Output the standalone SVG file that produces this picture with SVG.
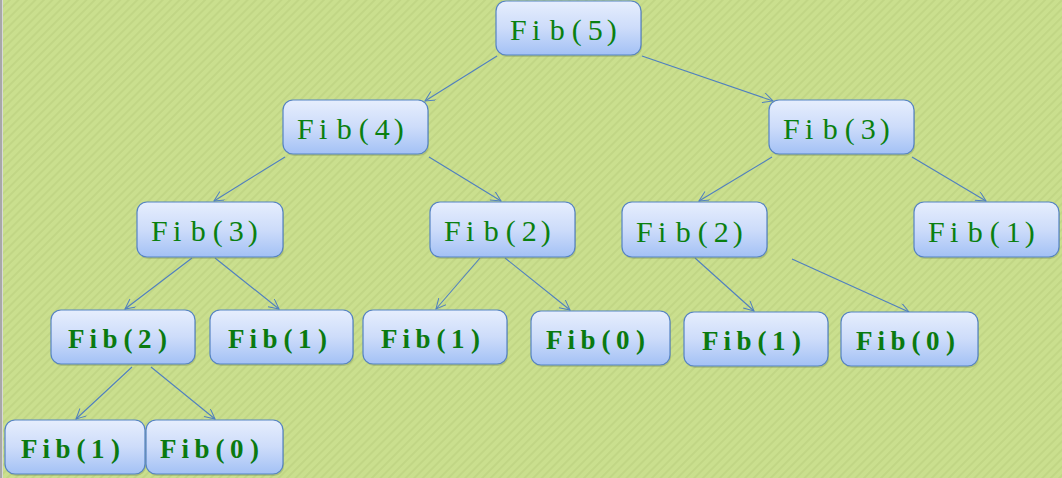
<svg xmlns="http://www.w3.org/2000/svg" width="1062" height="478" viewBox="0 0 1062 478">
<defs>
<pattern id="bg" width="6" height="6" patternUnits="userSpaceOnUse" patternTransform="rotate(-45)">
<rect width="6" height="6" fill="#cadf8e"/>
<rect width="6" height="2" fill="#c1d685"/>
</pattern>
<linearGradient id="ng" x1="0" y1="0" x2="0" y2="1">
<stop offset="0" stop-color="#e6eefd"/>
<stop offset="0.5" stop-color="#cddcfa"/>
<stop offset="1" stop-color="#a3c1f5"/>
</linearGradient>
<marker id="arr" markerWidth="14" markerHeight="12" refX="11" refY="5" orient="auto" markerUnits="userSpaceOnUse">
<path d="M1,0 L11,5 L1,10" fill="none" stroke="#4f7fc0" stroke-width="1"/>
</marker>
</defs>
<style>
.box{fill:url(#ng);stroke:#5583c3;stroke-width:1.2}
.sh{fill:#7f8f5a;opacity:0.35}
.t{font-family:"Liberation Serif","DejaVu Serif",serif;font-size:30px;fill:#0a8010}
.b{font-family:"Liberation Serif","DejaVu Serif",serif;font-size:27px;font-weight:bold;fill:#0a7a10}
.c line{stroke:#4f7fc0;stroke-width:1.1;marker-end:url(#arr)}
</style>
<rect width="1062" height="478" fill="url(#bg)"/>
<rect x="0" y="0" width="2" height="478" fill="#a8a8a8"/>
<rect x="2" y="0" width="1" height="478" fill="#d8d8d8"/>
<g class="c" id="connectors">
<line x1="497" y1="56" x2="425" y2="101"/>
<line x1="642" y1="56" x2="773" y2="101"/>
<line x1="285" y1="157" x2="214" y2="201"/>
<line x1="429" y1="157" x2="501" y2="201"/>
<line x1="772" y1="157" x2="699" y2="201"/>
<line x1="912" y1="157" x2="986" y2="201"/>
<line x1="192" y1="258" x2="125" y2="309"/>
<line x1="215" y1="258" x2="279" y2="309"/>
<line x1="480" y1="258" x2="436" y2="309"/>
<line x1="505" y1="258" x2="570" y2="310"/>
<line x1="695" y1="258" x2="754" y2="311"/>
<line x1="792" y1="259" x2="909" y2="312"/>
<line x1="132" y1="367" x2="76" y2="419"/>
<line x1="151" y1="367" x2="215" y2="419"/>
</g>
<g id="n1"><rect class="sh" x="497" y="3" width="145" height="54" rx="10"/><rect class="box" x="496" y="1" width="145" height="54" rx="10"/><text class="t" x="510" y="40" dx="0 5.3 9.5 7 6 4">Fib(5)</text></g>
<g id="n2"><rect class="sh" x="284" y="102" width="145" height="54" rx="10"/><rect class="box" x="283" y="100" width="145" height="54" rx="10"/><text class="t" x="297" y="139" dx="0 5.3 9.5 7 6 4">Fib(4)</text></g>
<g id="n3"><rect class="sh" x="770" y="102" width="145" height="54" rx="10"/><rect class="box" x="769" y="100" width="145" height="54" rx="10"/><text class="t" x="783" y="139" dx="0 5.3 9.5 7 6 4">Fib(3)</text></g>
<g id="n4"><rect class="sh" x="138" y="204" width="146" height="55" rx="10"/><rect class="box" x="137" y="202" width="146" height="55" rx="10"/><text class="t" x="151" y="241" dx="0 5.3 9.5 7 6 4">Fib(3)</text></g>
<g id="n5"><rect class="sh" x="431" y="204" width="145" height="55" rx="10"/><rect class="box" x="430" y="202" width="145" height="55" rx="10"/><text class="t" x="444" y="241" dx="0 5.3 9.5 7 6 4">Fib(2)</text></g>
<g id="n6"><rect class="sh" x="623" y="204" width="145" height="55" rx="10"/><rect class="box" x="622" y="202" width="145" height="55" rx="10"/><text class="t" x="636" y="242" dx="0 5.3 9.5 7 6 4">Fib(2)</text></g>
<g id="n7"><rect class="sh" x="915" y="204" width="145" height="55" rx="10"/><rect class="box" x="914" y="202" width="145" height="55" rx="10"/><text class="t" x="928" y="242" dx="0 5.3 9.5 7 6 4">Fib(1)</text></g>
<g id="n8"><rect class="sh" x="52" y="312" width="144" height="54" rx="10"/><rect class="box" x="51" y="310" width="144" height="54" rx="10"/><text class="b" x="68" y="348" dx="0 5 5.5 6 5.5 6.5">Fib(2)</text></g>
<g id="n9"><rect class="sh" x="211" y="312" width="143" height="54" rx="10"/><rect class="box" x="210" y="310" width="143" height="54" rx="10"/><text class="b" x="228" y="348" dx="0 5 5.5 6 5.5 6.5">Fib(1)</text></g>
<g id="n10"><rect class="sh" x="364" y="312" width="144" height="54" rx="10"/><rect class="box" x="363" y="310" width="144" height="54" rx="10"/><text class="b" x="381" y="348" dx="0 5 5.5 6 5.5 6.5">Fib(1)</text></g>
<g id="n11"><rect class="sh" x="532" y="313" width="139" height="54" rx="10"/><rect class="box" x="531" y="311" width="139" height="54" rx="10"/><text class="b" x="546" y="349" dx="0 5 5.5 6 5.5 6.5">Fib(0)</text></g>
<g id="n12"><rect class="sh" x="685" y="314" width="144" height="54" rx="10"/><rect class="box" x="684" y="312" width="144" height="54" rx="10"/><text class="b" x="702" y="350" dx="0 5 5.5 6 5.5 6.5">Fib(1)</text></g>
<g id="n13"><rect class="sh" x="842" y="314" width="137" height="54" rx="10"/><rect class="box" x="841" y="312" width="137" height="54" rx="10"/><text class="b" x="856" y="350" dx="0 5 5.5 6 5.5 6.5">Fib(0)</text></g>
<g id="n14"><rect class="sh" x="6" y="422" width="140" height="54" rx="10"/><rect class="box" x="5" y="420" width="140" height="54" rx="10"/><text class="b" x="21" y="458" dx="0 5 5.5 6 5.5 6.5">Fib(1)</text></g>
<g id="n15"><rect class="sh" x="147" y="422" width="137" height="54" rx="10"/><rect class="box" x="146" y="420" width="137" height="54" rx="10"/><text class="b" x="160" y="458" dx="0 5 5.5 6 5.5 6.5">Fib(0)</text></g>
</svg>
